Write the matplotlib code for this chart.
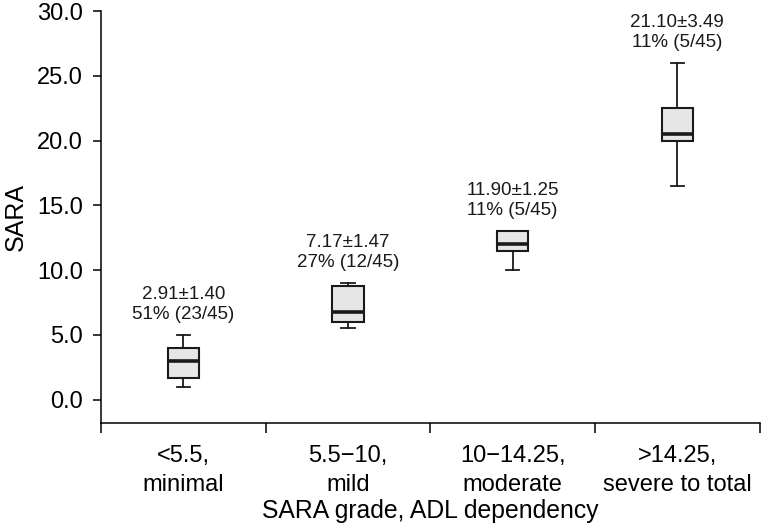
import numpy as np
import matplotlib.pyplot as plt

plt.rcParams['font.family'] = ['Liberation Sans', 'DejaVu Sans']

# box statistics
groups = ['<5.5,\nminimal', '5.5\u221210,\nmild', '10\u221214.25,\nmoderate', '>14.25,\nsevere to total']
whislo = [1.0, 5.5, 10.0, 16.5]
q1 = [1.7, 6.0, 11.5, 20.0]
med = [3.0, 6.8, 12.0, 20.5]
q3 = [4.0, 8.75, 13.0, 22.5]
whishi = [5.0, 9.0, 13.0, 26.0]
notes = ['2.91\u00b11.40\n51% (23/45)', '7.17\u00b11.47\n27% (12/45)',
         '11.90\u00b11.25\n11% (5/45)', '21.10\u00b13.49\n11% (5/45)']

stats = []
for i in range(len(groups)):
    stats.append(dict(whislo=whislo[i], q1=q1[i], med=med[i], q3=q3[i], whishi=whishi[i], fliers=[]))

fig = plt.figure(figsize=(7.65, 5.28), dpi=100)
ax = fig.add_axes([0.132, 0.199, 0.861, 0.780])

pos = np.arange(1, len(groups) + 1)
ax.bxp(stats, positions=pos, widths=0.19, patch_artist=True, showfliers=False,
       boxprops=dict(facecolor='#e6e6e6', edgecolor='#1a1a1a', linewidth=1.5),
       medianprops=dict(color='#1a1a1a', linewidth=2.6),
       whiskerprops=dict(color='#1a1a1a', linewidth=1.3),
       capprops=dict(color='#1a1a1a', linewidth=1.3),
       capwidths=0.08)

for i in range(len(groups)):
    ax.text(pos[i], whishi[i] + 0.95, notes[i], ha='center', va='bottom',
            fontsize=13.5, linespacing=1.2, color='#1a1a1a')

ax.set_xlim(0.5, 4.5)
ax.set_ylim(-1.8, 30)
ax.set_yticks(np.arange(0, 31, 5))
ax.set_yticklabels(['%.1f' % v for v in np.arange(0, 31, 5)])
ax.set_xticks(np.arange(0.5, 4.6, 1.0))
ax.set_xticklabels([])
ax.set_xticks(pos, minor=True)
ax.set_xticklabels(groups, minor=True)
for t in ax.get_xticklabels(minor=True):
    t.set_linespacing(1.4)
ax.tick_params(axis='x', which='minor', length=0, pad=16, labelsize=17)
ax.tick_params(axis='x', which='major', length=7, width=1.1)
ax.tick_params(axis='y', length=6, width=1.1, labelsize=17, pad=7)

for s in ['top', 'right']:
    ax.spines[s].set_visible(False)
ax.spines['left'].set_bounds(-1.8, 30)
for s in ['left', 'bottom']:
    ax.spines[s].set_linewidth(1.1)

ax.set_ylabel('SARA', fontsize=18, labelpad=7)
ax.set_xlabel('SARA grade, ADL dependency', fontsize=17.8, labelpad=2)

fig.savefig('out.png', dpi=100)
